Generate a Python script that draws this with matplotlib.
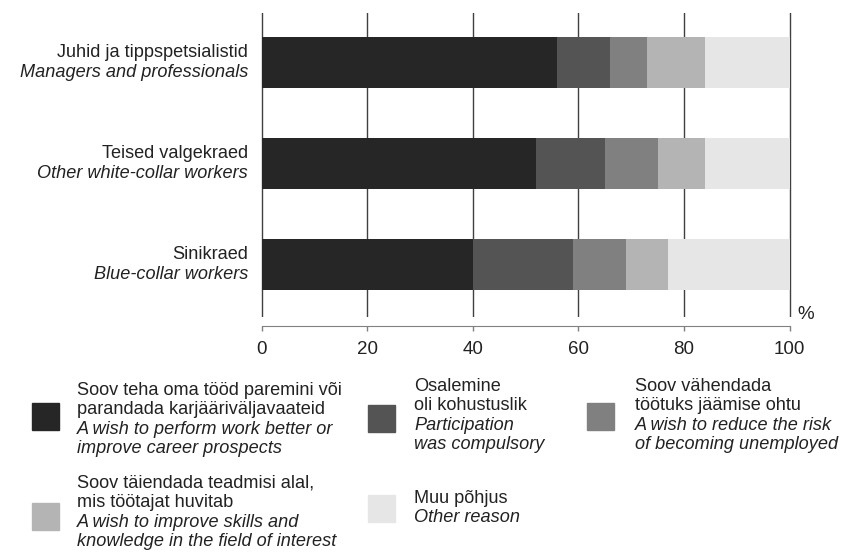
import matplotlib
matplotlib.use("Agg")
import matplotlib.pyplot as plt
from matplotlib.patches import Rectangle

plt.rcParams['font.family'] = ['Liberation Sans', 'DejaVu Sans']

# groups (top to bottom)
groups_et = ['Juhid ja tippspetsialistid', 'Teised valgekraed', 'Sinikraed']
groups_en = ['Managers and professionals', 'Other white-collar workers', 'Blue-collar workers']

# shares by reason, %
career = [56, 52, 40]
compulsory = [10, 13, 19]
unemployment = [7, 10, 10]
interest = [11, 9, 8]
other = [16, 16, 23]

series = [career, compulsory, unemployment, interest, other]
colors = ['#262626', '#545454', '#808080', '#b4b4b4', '#e6e6e6']

legend_et = ['Soov teha oma tööd paremini või\nparandada karjääriväljavaateid',
             'Osalemine\noli kohustuslik',
             'Soov vähendada\ntöötuks jäämise ohtu',
             'Soov täiendada teadmisi alal,\nmis töötajat huvitab',
             'Muu põhjus']
legend_en = ['A wish to perform work better or\nimprove career prospects',
             'Participation\nwas compulsory',
             'A wish to reduce the risk\nof becoming unemployed',
             'A wish to improve skills and\nknowledge in the field of interest',
             'Other reason']

W, H = 842, 554
fs = 13.1
fig = plt.figure(figsize=(W / 100, H / 100), dpi=100)
# a little slack on both sides so the 0 and 100 lines are not cut
ax = fig.add_axes([259.5 / W, 1 - 317 / H, 532 / W, 304 / H])

y = list(range(len(groups_et)))
left = [0] * len(y)
for vals, c in zip(series, colors):
    ax.barh(y, vals, left=left, height=0.5, color=c, zorder=2)
    left = [l + v for l, v in zip(left, vals)]

ax.set_xlim(-2 / 5.28, 100 + 2 / 5.28)
ax.set_ylim(2.52, -0.49)
ax.set_xticks(range(0, 101, 20))
ax.set_yticks([])
ax.grid(axis='x', color='#404040', linewidth=1.0, zorder=1)
for s in ['top', 'right', 'left']:
    ax.spines[s].set_visible(False)
ax.spines['bottom'].set_position(('outward', 6.5))
ax.spines['bottom'].set_bounds(0, 100)
ax.spines['bottom'].set_color('#808080')
ax.tick_params(axis='x', length=3.6, width=1, color='#808080', labelsize=13.5,
               labelcolor='#222222', pad=7)
fig.text(797 / W, 1 - 319 / H, '%', fontsize=13.5, color='#222222',
         ha='left', va='baseline')

# group labels
for i in y:
    yc = ax.transData.transform((0, i))[1]
    fig.text(248 / W, (yc + 5) / H, groups_et[i], ha='right', va='baseline',
             fontsize=fs, color='#222222')
    fig.text(248 / W, (yc - 15) / H, groups_en[i], ha='right', va='baseline',
             fontsize=fs, color='#222222', style='italic')

# legend drawn by hand
pitch = 19.3
entries = [
    (32, 403, 77, 395),
    (368, 405, 414, 391),
    (587, 403, 635, 391),
    (32, 503, 77, 488),
    (368, 495, 414, 503),
]
for k, (sx, sy, tx, ty) in enumerate(entries):
    fig.patches.append(Rectangle((sx / W, 1 - (sy + 27) / H), 27 / W, 27 / H,
                                 transform=fig.transFigure, color=colors[k]))
    lines = [(t, 'normal') for t in legend_et[k].split('\n')] + \
            [(t, 'italic') for t in legend_en[k].split('\n')]
    for j, (t, st) in enumerate(lines):
        fig.text(tx / W, 1 - (ty + j * pitch) / H, t, ha='left', va='baseline',
                 fontsize=fs, color='#222222', style=st)

fig.savefig('out.png', dpi=100)
